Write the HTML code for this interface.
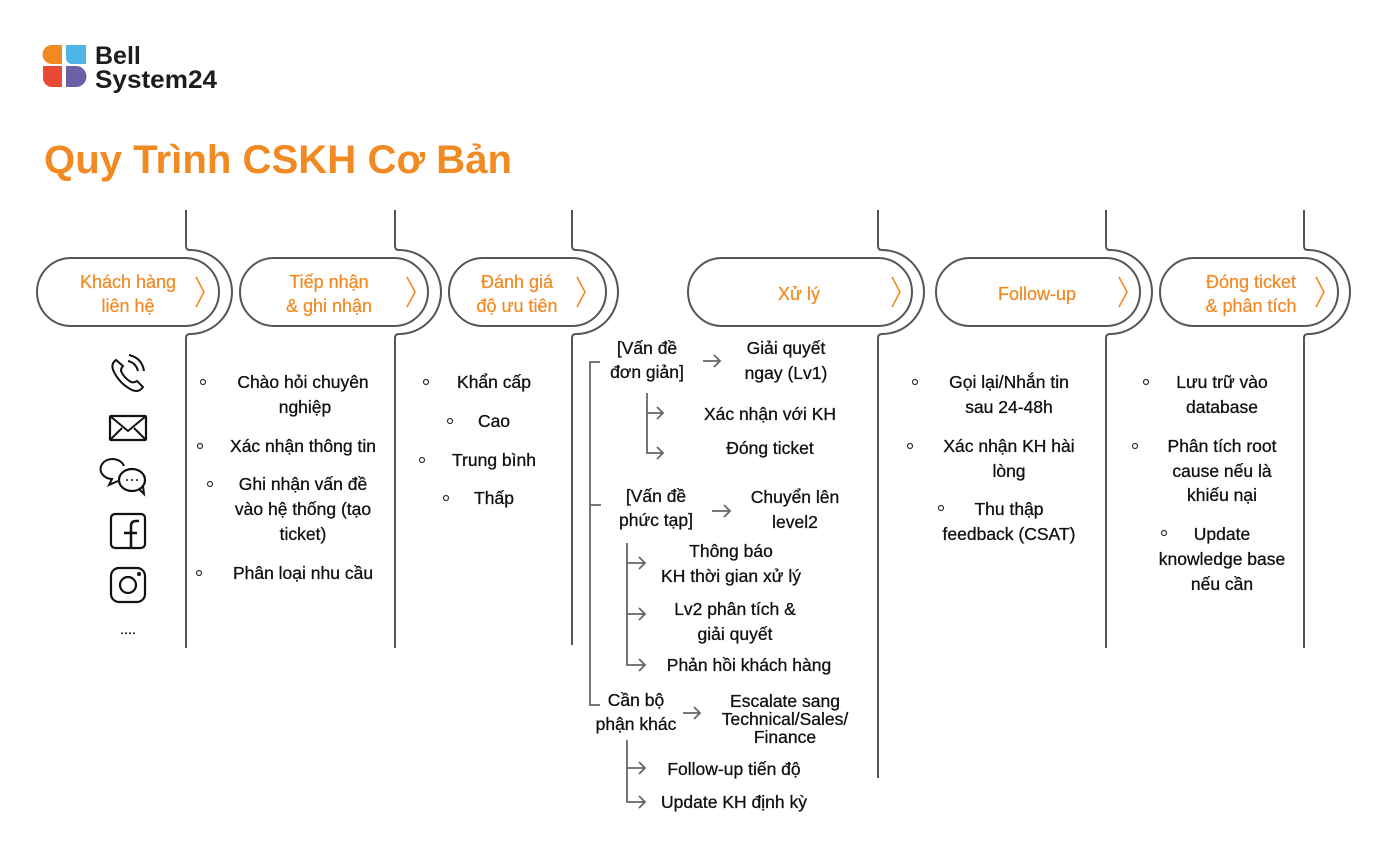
<!DOCTYPE html>
<html><head><meta charset="utf-8"><style>
html,body{margin:0;padding:0;background:#fff}
svg{display:block}
text{font-family:"Liberation Sans",sans-serif}
.o{fill:#f18a23;font-size:18px;stroke:#f18a23;stroke-width:0.25}
.t{fill:#111;font-size:17.5px;text-anchor:middle;stroke:#111;stroke-width:0.3}
.bu{fill:none;stroke:#333;stroke-width:1.2}
.ln{fill:none;stroke:#555;stroke-width:2}
.ar{fill:none;stroke:#666;stroke-width:1.8}
.ch{fill:none;stroke:#f18a23;stroke-width:1.6}
.ic{fill:none;stroke:#111;stroke-width:2.2}
</style></head><body>
<svg width="1378" height="862" viewBox="0 0 1378 862" xmlns="http://www.w3.org/2000/svg">
<!-- logo -->
<path d="M52,45 H62 V64 H52 A9.5,9.5 0 0 1 52,45 Z" fill="#f18a23"/>
<path d="M66,45 H86 V64 H72 A6,6 0 0 1 66,58 Z" fill="#4db4e6"/>
<path d="M43,66 H62 V87 H52 A9,9 0 0 1 43,78 Z" fill="#e84a35"/>
<path d="M66,66 H76 A10.5,10.5 0 0 1 76,87 H66 Z" fill="#6b5fa8"/>
<text x="95" y="64" style="font-size:25px;font-weight:bold;fill:#1d1d1d">Bell</text>
<text x="95" y="88" textLength="122" lengthAdjust="spacingAndGlyphs" style="font-size:25px;font-weight:bold;fill:#1d1d1d">System24</text>
<text x="44" y="173" textLength="468" lengthAdjust="spacingAndGlyphs" style="font-size:40px;font-weight:bold;fill:#f18a23">Quy Trình CSKH Cơ Bản</text>

<!-- pills -->
<rect class="ln" x="37" y="258" width="182" height="68" rx="34"/>
<rect class="ln" x="240" y="258" width="188" height="68" rx="34"/>
<rect class="ln" x="449" y="258" width="157" height="68" rx="34"/>
<rect class="ln" x="688" y="258" width="224" height="68" rx="34"/>
<rect class="ln" x="936" y="258" width="204" height="68" rx="34"/>
<rect class="ln" x="1160" y="258" width="178" height="68" rx="34"/>
<!-- separators -->
<path class="ln" d="M186,210 V246 Q186,250 190,250 A42,42 0 0 1 190,334 Q186,334 186,338 V648"/>
<path class="ln" d="M395,210 V246 Q395,250 399,250 A42,42 0 0 1 399,334 Q395,334 395,338 V648"/>
<path class="ln" d="M572,210 V246 Q572,250 576,250 A42,42 0 0 1 576,334 Q572,334 572,338 V645"/>
<path class="ln" d="M878,210 V246 Q878,250 882,250 A42,42 0 0 1 882,334 Q878,334 878,338 V778"/>
<path class="ln" d="M1106,210 V246 Q1106,250 1110,250 A42,42 0 0 1 1110,334 Q1106,334 1106,338 V648"/>
<path class="ln" d="M1304,210 V246 Q1304,250 1308,250 A42,42 0 0 1 1308,334 Q1304,334 1304,338 V648"/>
<!-- chevrons -->
<path class="ch" d="M196,277 L204,292 L196,307"/>
<path class="ch" d="M407,277 L415,292 L407,307"/>
<path class="ch" d="M577,277 L585,292 L577,307"/>
<path class="ch" d="M892,277 L900,292 L892,307"/>
<path class="ch" d="M1119,277 L1127,292 L1119,307"/>
<path class="ch" d="M1316,277 L1324,292 L1316,307"/>
<!-- pill labels -->
<g class="o" text-anchor="middle">
<text x="128" y="288">Khách hàng</text><text x="128" y="312">liên hệ</text>
<text x="329" y="288">Tiếp nhận</text><text x="329" y="312">&amp; ghi nhận</text>
<text x="517" y="288">Đánh giá</text><text x="517" y="312">độ ưu tiên</text>
<text x="799" y="300">Xử lý</text>
<text x="1037" y="300">Follow-up</text>
<text x="1251" y="288">Đóng ticket</text><text x="1251" y="312">&amp; phân tích</text>
</g>

<!-- icons col1 -->
<g class="ic">
<path d="M116,360 q-6,4 -2,12 q6,12 18,18 q7,3 11,-3 l-6,-6 q-3,2 -6,1 q-7,-4 -10,-11 q0,-3 2,-5 z" stroke-width="2"/>
<path d="M128,361 q8,2 10,10 M129,355 q13,3 15,16" stroke-width="2"/>
<rect x="110" y="416" width="36" height="24" rx="1"/>
<path d="M110,416 L128,431 L146,416 M110,440 L122,428 M146,440 L134,428" stroke-width="2"/>
<path d="M124,466 a12,10 0 1 0 -12,13 l-3,6 l9,-4" stroke-width="2"/>
<ellipse cx="132" cy="480" rx="13" ry="11" fill="#fff"/>
<path d="M139,489 l5,5 l-1,-8" stroke-width="2"/>
<circle cx="127" cy="480" r="1" fill="#111" stroke="none"/><circle cx="132" cy="480" r="1" fill="#111" stroke="none"/><circle cx="137" cy="480" r="1" fill="#111" stroke="none"/>
<rect x="111" y="514" width="34" height="34" rx="4"/>
<path d="M131,548 V526 q0,-5 5,-5 h3 M124,533 h13" stroke-width="2.5"/>
<rect x="111" y="568" width="34" height="34" rx="8"/>
<circle cx="128" cy="585" r="8"/>
<circle cx="139" cy="574" r="2" fill="#111" stroke="none"/>
</g>
<text x="128" y="634" class="t" style="font-size:14px">....</text>

<!-- bullets -->
<g class="bu">
<circle cx="203" cy="382" r="2.5"/><circle cx="200" cy="446" r="2.5"/><circle cx="210" cy="484" r="2.5"/><circle cx="199" cy="573" r="2.5"/>
<circle cx="426" cy="382" r="2.5"/><circle cx="450" cy="421" r="2.5"/><circle cx="422" cy="460" r="2.5"/><circle cx="446" cy="498" r="2.5"/>
<circle cx="915" cy="382" r="2.5"/><circle cx="910" cy="446" r="2.5"/><circle cx="941" cy="508" r="2.5"/>
<circle cx="1146" cy="382" r="2.5"/><circle cx="1135" cy="446" r="2.5"/><circle cx="1164" cy="533" r="2.5"/>
</g>

<g class="t">
<text x="303" y="388">Chào hỏi chuyên</text><text x="305" y="413">nghiệp</text>
<text x="303" y="452">Xác nhận thông tin</text>
<text x="303" y="490">Ghi nhận vấn đề</text><text x="303" y="515">vào hệ thống (tạo</text><text x="303" y="540">ticket)</text>
<text x="303" y="579">Phân loại nhu cầu</text>
<text x="494" y="388">Khẩn cấp</text>
<text x="494" y="427">Cao</text>
<text x="494" y="466">Trung bình</text>
<text x="494" y="504">Thấp</text>
<text x="647" y="354">[Vấn đề</text><text x="647" y="378">đơn giản]</text>
<text x="786" y="354">Giải quyết</text><text x="786" y="379">ngay (Lv1)</text>
<text x="770" y="420">Xác nhận với KH</text>
<text x="770" y="454">Đóng ticket</text>
<text x="656" y="502">[Vấn đề</text><text x="656" y="526">phức tạp]</text>
<text x="795" y="503">Chuyển lên</text><text x="795" y="528">level2</text>
<text x="731" y="557">Thông báo</text><text x="731" y="582">KH thời gian xử lý</text>
<text x="735" y="615">Lv2 phân tích &amp;</text><text x="735" y="640">giải quyết</text>
<text x="749" y="671">Phản hồi khách hàng</text>
<text x="636" y="706">Cần bộ</text><text x="636" y="730">phận khác</text>
<text x="785" y="707">Escalate sang</text><text x="785" y="725">Technical/Sales/</text><text x="785" y="743">Finance</text>
<text x="734" y="775">Follow-up tiến độ</text>
<text x="734" y="808">Update KH định kỳ</text>
<text x="1009" y="388">Gọi lại/Nhắn tin</text><text x="1009" y="413">sau 24-48h</text>
<text x="1009" y="452">Xác nhận KH hài</text><text x="1009" y="477">lòng</text>
<text x="1009" y="515">Thu thập</text><text x="1009" y="540">feedback (CSAT)</text>
<text x="1222" y="388">Lưu trữ vào</text><text x="1222" y="413">database</text>
<text x="1222" y="452">Phân tích root</text><text x="1222" y="477">cause nếu là</text><text x="1222" y="501">khiếu nại</text>
<text x="1222" y="540">Update</text><text x="1222" y="565">knowledge base</text><text x="1222" y="590">nếu cần</text>
</g>

<!-- tree col4 -->
<path class="ar" d="M600,362 H590 V705 H600 M590,505 H601"/>
<path class="ar" d="M703,361 H720 M714,355 L720,361 L714,367"/>
<path class="ar" d="M712,511 H730 M724,505 L730,511 L724,517"/>
<path class="ar" d="M683,713 H700 M694,707 L700,713 L694,719"/>
<path class="ar" d="M647,393 V453 H663 M647,413 H663 M657,407 L663,413 L657,419 M657,447 L663,453 L657,459"/>
<path class="ar" d="M627,543 V665 H645 M627,563 H645 M627,614 H645 M639,557 L645,563 L639,569 M639,608 L645,614 L639,620 M639,659 L645,665 L639,671"/>
<path class="ar" d="M627,740 V802 H645 M627,768 H645 M639,762 L645,768 L639,774 M639,796 L645,802 L639,808"/>
</svg>
</body></html>
